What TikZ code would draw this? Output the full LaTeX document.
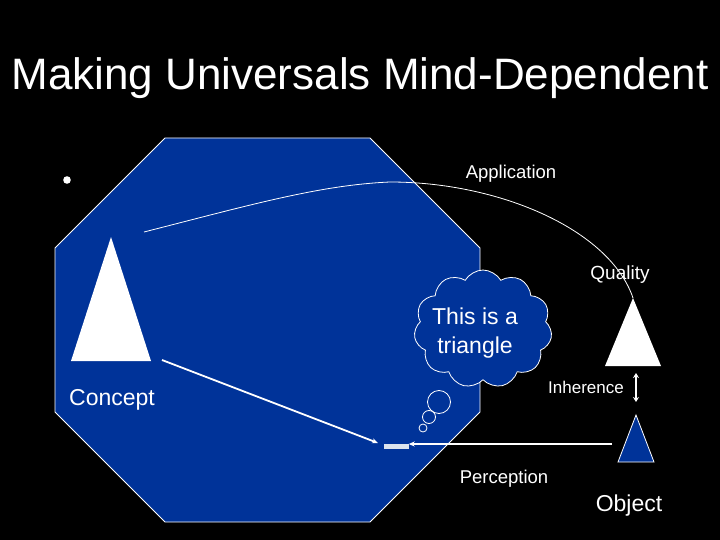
\documentclass[tikz,border=0pt]{standalone}
\usepackage{fontspec}
\setmainfont{Liberation Sans}
\usetikzlibrary{shapes.symbols,arrows.meta}
\definecolor{slideblue}{RGB}{0,51,153}
\definecolor{percept}{RGB}{220,228,238}
\tikzset{
  lbl/.style={text=white, anchor=base, inner sep=0pt, font=\fontsize{#1}{#1}\selectfont},
  thin line/.style={draw=white, line width=0.8pt},
  arrowline/.style={draw=white, line width=1.8pt, -{Stealth[length=6pt,width=5pt]}},
}
\begin{document}
\begin{tikzpicture}[x=1pt,y=-1pt]
\fill[black] (0,0) rectangle (720,540);
\useasboundingbox (0,0) rectangle (720,540);
% octagon
\draw[white, line width=0.8pt, fill=slideblue]
  (165,138) -- (370,138) -- (480,248) -- (480,412) -- (370,522) -- (165,522) -- (55,412) -- (55,248) -- cycle;
% title
\node[lbl=44] (title) at (360,90) {Making Universals Mind-Dependent};
% bullet
\fill[white] (67,180) circle (3.8);
% concept triangle
\coordinate (cA) at (111,237);
\coordinate (cL) at (71,361);
\coordinate (cR) at (151,361);
\fill[white] (cA) -- (cL) -- (cR) -- cycle;
\node[lbl=23] (concept) at (112,405) {Concept};
% quality triangle
\coordinate (qA) at (633,298);
\fill[white] (qA) -- (605,366) -- (661,366) -- cycle;
\node[lbl=19] (quality) at (620,279) {Quality};
% object triangle
\coordinate (oA) at (636,415);
\draw[white, line width=0.8pt, fill=slideblue] (oA) -- (618,462) -- (654,462) -- cycle;
\node[lbl=23] (object) at (629,511) {Object};
% inherence
\coordinate (iT) at (636,373);
\coordinate (iB) at (636,402);
\draw[draw=white, line width=2pt, {Stealth[length=5pt,width=6pt]}-{Stealth[length=5pt,width=6pt]}] (iT) -- (iB);
\node[lbl=17] (inherence) at (586,393) {Inherence};
% application curve
\coordinate (apS) at (144,232);
\coordinate (apM) at (390,182);
\draw[thin line] (apS) .. controls (250,205) and (320,185) .. (apM)
  .. controls (500,182) and (610,230) .. (qA);
\node[lbl=18.5] (application) at (511,179) {Application};
% cloud
\node[cloud, cloud puffs=11, cloud puff arc=120, draw=white, line width=0.8pt, fill=slideblue,
      minimum width=138pt, minimum height=118pt, inner sep=0pt] (cloud) at (483,329) {};
\node[text=white, align=center, font=\fontsize{23}{29}\selectfont, inner sep=0pt] (thought) at (475,333) {This is a\\triangle};
\draw[thin line] (439,402) circle (11.5);
\draw[thin line] (429,417) circle (6.5);
\draw[thin line] (423,428) circle (4);
% percept
\node[fill=percept, minimum width=25pt, minimum height=5pt, inner sep=0pt] (pct) at (396,446.5) {};
% concept arrow
\coordinate (caS) at (162,360);
\coordinate (caE) at (378,443);
\draw[arrowline] (caS) -- (caE);
% perception arrow
\coordinate (paS) at (612,444);
\draw[arrowline] (paS) -- (pct.east |- paS);
\node[lbl=18.5] (perception) at (504,483) {Perception};
\end{tikzpicture}
\end{document}
